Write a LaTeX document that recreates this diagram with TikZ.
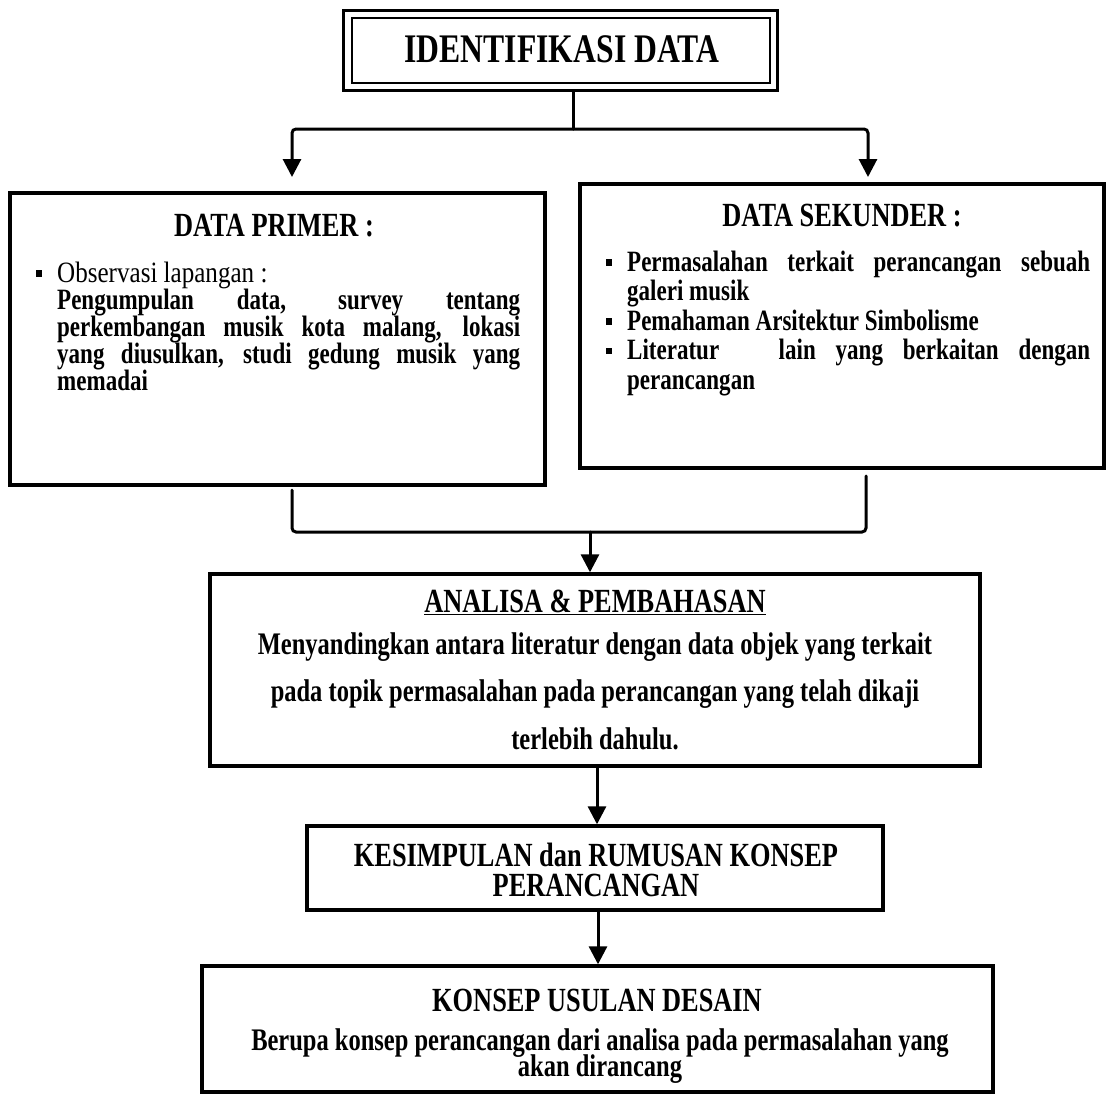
\documentclass[tikz,border=0pt]{standalone}
\usepackage{fontspec}
\setmainfont{Liberation Serif}[FakeStretch=0.78]
\newfontfamily\wideserif{Liberation Serif}[FakeStretch=0.85]
\usetikzlibrary{arrows.meta}
% fixed line pitch, even where the letters of two lines come close
\newcommand\fixedpitch{\lineskiplimit=-100pt\lineskip=0pt}
\tikzset{
  frame/.style={draw, line width=3.4pt, inner sep=0pt},
  link/.style={line width=3pt, line cap=round, rounded corners=4pt},
  arr/.style={link, -{Triangle[width=18pt,length=18pt]}},
  head/.style={inner sep=0pt, anchor=base, font=\bfseries\fontsize{33.8}{30}\selectfont\fixedpitch, align=center},
  body/.style={inner sep=0pt, anchor=base west, align=left, font=\bfseries\fontsize{29.5}{27}\selectfont\fixedpitch},
  prose/.style={inner sep=0pt, anchor=base, align=center, font=\bfseries\fontsize{31.4}{47.5}\selectfont\fixedpitch},
}
\newcommand\sqb{\llap{\raisebox{0.17em}{\rule{6.5pt}{6.5pt}}\hspace{15pt}}}
\newcommand\fullline[1]{\makebox[463pt][s]{#1}}
\begin{document}
\begin{tikzpicture}[x=1pt,y=-1pt]
\useasboundingbox (0,0) rectangle (1109,1095);

% title box with a double frame
\node[frame, line width=3pt, minimum width=434pt, minimum height=80pt] (ident) at (560,50) {};
\node[frame, line width=2.2pt, minimum width=418pt, minimum height=65pt] (identin) at (561,50.5) {};
\node[head, font=\bfseries\fontsize{40.6}{42}\selectfont] (identtxt) at (562,62) {IDENTIFIKASI DATA};

% primary / secondary data boxes
\node[frame, minimum width=535pt, minimum height=292pt] (prim) at (277.5,339) {};
\node[frame, minimum width=524pt, minimum height=284pt] (sek) at (842,326) {};

% multi-line texts are placed by the baseline of their last line
\node[head] (primh) at (274,236) {DATA PRIMER :};
\node[body] (primb) at (57,390) {%
  \sqb{\wideserif\mdseries Observasi lapangan :}\\
  \fullline{Pengumpulan data, survey tentang}\\
  \fullline{perkembangan musik kota malang, lokasi}\\
  \fullline{yang diusulkan, studi gedung musik yang}\\
  memadai};

\node[head] (sekh) at (842,226) {DATA SEKUNDER :};
\node[body, font=\bfseries\fontsize{29.5}{29.5}\selectfont\fixedpitch] (sekb) at (627,389) {%
  \sqb\fullline{Permasalahan terkait perancangan sebuah}\\
  galeri musik\\
  \sqb Pemahaman Arsitektur Simbolisme\\
  \sqb\fullline{Literatur\ \ \ lain yang berkaitan dengan}\\
  perancangan};

% analysis box
\node[frame, minimum width=770pt, minimum height=192pt] (ana) at (595,670) {};
\node[head] (anah) at (595,612) {\underline{ANALISA \& PEMBAHASAN}};
\node[prose] (anab) at (595,749) {Menyandingkan antara literatur dengan data objek yang terkait\\
  pada topik permasalahan pada perancangan yang telah dikaji\\
  terlebih dahulu.};

% conclusion box
\node[frame, minimum width=576pt, minimum height=84pt] (kes) at (595,868) {};
\node[head] (kesh) at (596,896) {KESIMPULAN dan RUMUSAN KONSEP\\PERANCANGAN};

% design concept box
\node[frame, minimum width=791pt, minimum height=126pt] (kon) at (597.5,1029) {};
\node[head] (konh) at (597,1011) {KONSEP USULAN DESAIN};
\node[prose, font=\bfseries\fontsize{31.4}{25.5}\selectfont\fixedpitch] (konb) at (600,1076) {Berupa konsep perancangan dari analisa pada permasalahan yang\\akan dirancang};

% connectors
\coordinate (split) at (573,129);
\coordinate (tipl) at (292,177);
\coordinate (tipr) at (868,177);
\draw[link] (ident.south -| split) -- (split);
\draw[arr] (split) -| (tipl);
\draw[arr] (split) -| (tipr);

\coordinate (bl) at (292,490);
\coordinate (br) at (866,476);
\coordinate (merge) at (590,532);
\coordinate (stemA) at (597,0);
\coordinate (stemB) at (598,0);
\draw[link] (bl) |- (merge) -| (br);
\draw[arr] (merge) -- (merge |- ana.north);
\draw[arr] (ana.south -| stemA) -- (kes.north -| stemA);
\draw[arr] (kes.south -| stemB) -- (kon.north -| stemB);
\end{tikzpicture}
\end{document}
